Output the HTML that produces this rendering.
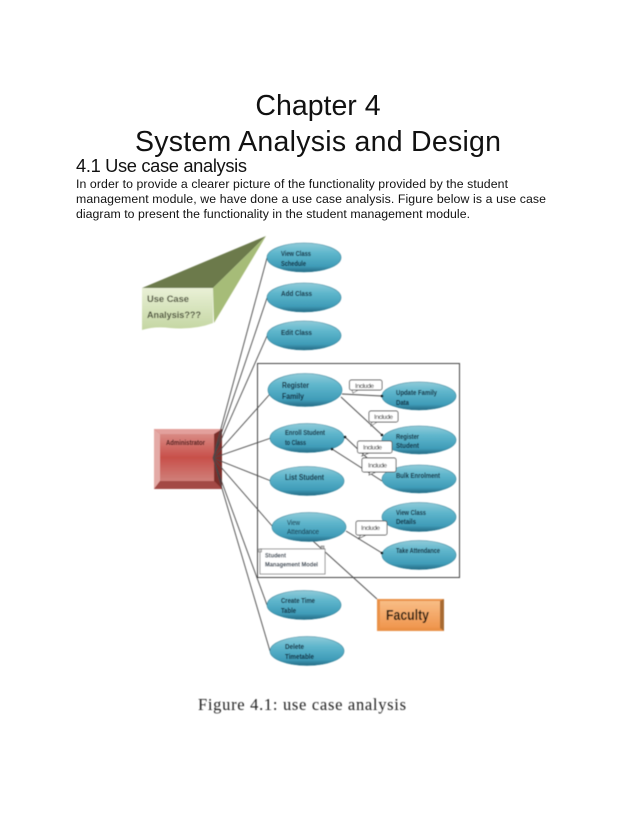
<!DOCTYPE html>
<html><head><meta charset="utf-8"><style>
html,body{margin:0;padding:0;background:#fff}
svg{display:block}
.t{font-family:"Liberation Sans",sans-serif;fill:#111}
.d{font-family:"Liberation Sans",sans-serif;font-weight:bold;fill:#071c30;font-size:7px}
.i{font-family:"Liberation Sans",sans-serif;fill:#111;font-size:6.5px}
.l{stroke:#4a4a4a;stroke-width:.9;fill:none}
.c{fill:#fff;stroke:#555;stroke-width:.9}
</style></head><body>
<svg width="638" height="826" viewBox="0 0 638 826" xmlns="http://www.w3.org/2000/svg">
<defs>
<linearGradient id="e" x1="0" y1="0" x2="0" y2="1"><stop offset="0" stop-color="#8fcbd9"/><stop offset=".35" stop-color="#5fb6cc"/><stop offset=".8" stop-color="#3f9cb8"/><stop offset="1" stop-color="#256a84"/></linearGradient>
<linearGradient id="a" x1="0" y1="0" x2="0" y2="1"><stop offset="0" stop-color="#d98a84"/><stop offset=".5" stop-color="#c8504a"/><stop offset="1" stop-color="#d0807a"/></linearGradient>
<linearGradient id="f" x1="0" y1="0" x2="0" y2="1"><stop offset="0" stop-color="#f8bd86"/><stop offset="1" stop-color="#f0964e"/></linearGradient>
<linearGradient id="g" x1="0" y1="0" x2="0" y2="1"><stop offset="0" stop-color="#e9f0d6"/><stop offset="1" stop-color="#c4d6a2"/></linearGradient>
<filter id="b" x="-5%" y="-5%" width="110%" height="110%"><feGaussianBlur stdDeviation=".4"/></filter>
</defs>
<text class="t" x="318" y="115" font-size="28.500" text-anchor="middle">Chapter 4</text>
<text class="t" x="135" y="151" font-size="28.500" textLength="366" lengthAdjust="spacing">System Analysis and Design</text>
<text class="t" x="76" y="172" font-size="18.300" textLength="171">4.1 Use case analysis</text>
<text class="t" x="76" y="188" font-size="12.300" textLength="432">In order to provide a clearer picture of the functionality provided by the student</text>
<text class="t" x="76" y="203" font-size="12.300" textLength="470">management module, we have done a use case analysis. Figure below is a use case</text>
<text class="t" x="76" y="218" font-size="12.300" textLength="394">diagram to present the functionality in the student management module.</text>

<g filter="url(#b)">
<path d="M142 288L266 236L213 288Z" fill="#6c7a4c"/>
<path d="M213 288L266 236L214 323Z" fill="#a6bc78"/>
<path d="M142 288H213V323Q195 330 170 328Q155 326 142 330Z" fill="url(#g)"/>
<text x="147" y="302" font-family="Liberation Sans,sans-serif" font-weight="bold" font-size="9.500" fill="#474c36" textLength="42" lengthAdjust="spacingAndGlyphs">Use Case</text>
<text x="147" y="318" font-family="Liberation Sans,sans-serif" font-weight="bold" font-size="9.500" fill="#474c36" textLength="54" lengthAdjust="spacingAndGlyphs">Analysis???</text>

<rect x="257.500" y="363.500" width="202" height="214" fill="none" stroke="#444" stroke-width="1"/>

<rect x="154" y="429" width="68" height="60" fill="#b8504c"/>
<path d="M154 429H222L214 434H160Z" fill="#e3a09c"/>
<path d="M154 429L160 434V481L154 489Z" fill="#e4aaa6"/>
<path d="M222 429L214 434V481L222 489Z" fill="#7c2d2b"/>
<path d="M154 489L160 481H214L222 489Z" fill="#a34845"/>
<rect x="160" y="434" width="54" height="47" fill="url(#a)"/>
<text class="d" x="166" y="445" style="fill:#3e0f0f" textLength="39" lengthAdjust="spacingAndGlyphs">Administrator</text>
<path d="M213 458L222 430L218 446ZM213 458L222 486L218 470Z" fill="#2a1414"/>

<g class="l">
<path d="M213 458L267 258M213 458L267 298M213 458L267 336M213 458L270 394M213 458L271 438M213 458L271 481M213 458L273 527M213 458L267 605M213 458L270 651"/>
<path d="M342 394L382 396M341 397L382 435M345 437L382 472M332 449L382 481M346 531L382 553M313 541L377 599"/>
</g>

<rect x="377" y="599" width="67" height="32" fill="#ea9147"/>
<rect x="380" y="601" width="60" height="27" fill="url(#f)"/>
<path d="M440 601L444 599V631L440 628Z" fill="#a86a32"/>
<text x="386" y="620" font-family="Liberation Sans,sans-serif" font-weight="bold" font-size="14.500" fill="#1d1208" textLength="43" lengthAdjust="spacingAndGlyphs">Faculty</text>

<g fill="url(#e)" stroke="#2f7d95" stroke-width=".6">
<ellipse cx="304" cy="257.500" rx="37" ry="14.500"/>
<ellipse cx="304" cy="297.500" rx="37" ry="14.500"/>
<ellipse cx="304" cy="335.500" rx="37" ry="14.500"/>
<ellipse cx="305" cy="390" rx="37" ry="16.500"/>
<ellipse cx="419" cy="396" rx="37" ry="14"/>
<ellipse cx="419" cy="440" rx="37" ry="14"/>
<ellipse cx="419" cy="479" rx="37" ry="14"/>
<ellipse cx="307" cy="438" rx="37" ry="14.500"/>
<ellipse cx="307" cy="481" rx="37" ry="14.500"/>
<ellipse cx="309" cy="527" rx="37" ry="14.500"/>
<ellipse cx="419" cy="517" rx="37" ry="14.500"/>
<ellipse cx="419" cy="555" rx="37" ry="14.500"/>
<ellipse cx="304" cy="605" rx="37" ry="14.500"/>
<ellipse cx="307" cy="651" rx="37" ry="14.500"/>
</g>

<g fill="#111">
<circle cx="382" cy="396" r="1.300"/><circle cx="382" cy="435" r="1.300"/><circle cx="345" cy="437" r="1.300"/><circle cx="332" cy="449" r="1.300"/><circle cx="382" cy="553" r="1.300"/>
</g>

<text class="d" x="281" y="256" textLength="30" lengthAdjust="spacingAndGlyphs">View Class</text><text class="d" x="281" y="266" textLength="25" lengthAdjust="spacingAndGlyphs">Schedule</text>
<text class="d" x="281" y="296" textLength="31" lengthAdjust="spacingAndGlyphs">Add Class</text>
<text class="d" x="281" y="335" textLength="31" lengthAdjust="spacingAndGlyphs">Edit Class</text>
<text class="d" x="282" y="388" style="font-size:8.500px" textLength="27" lengthAdjust="spacingAndGlyphs">Register</text><text class="d" x="282" y="399" style="font-size:8.500px" textLength="22" lengthAdjust="spacingAndGlyphs">Family</text>
<text class="d" x="396" y="395" textLength="41" lengthAdjust="spacingAndGlyphs">Update Family</text><text class="d" x="396" y="405" textLength="13" lengthAdjust="spacingAndGlyphs">Data</text>
<text class="d" x="396" y="439" textLength="23" lengthAdjust="spacingAndGlyphs">Register</text><text class="d" x="396" y="448" textLength="23" lengthAdjust="spacingAndGlyphs">Student</text>
<text class="d" x="396" y="478" textLength="44" lengthAdjust="spacingAndGlyphs">Bulk Enrolment</text>
<text class="d" x="285" y="435" textLength="40" lengthAdjust="spacingAndGlyphs">Enroll Student</text><text class="d" x="285" y="445" textLength="21" lengthAdjust="spacingAndGlyphs">to Class</text>
<text class="d" x="285" y="480" style="font-size:8px" textLength="39" lengthAdjust="spacingAndGlyphs">List Student</text>
<text class="d" x="287" y="525" style="font-weight:normal" textLength="13" lengthAdjust="spacingAndGlyphs">View</text><text class="d" x="287" y="534" style="font-weight:normal" textLength="32" lengthAdjust="spacingAndGlyphs">Attendance</text>
<text class="d" x="396" y="515" textLength="30" lengthAdjust="spacingAndGlyphs">View Class</text><text class="d" x="396" y="524" textLength="20" lengthAdjust="spacingAndGlyphs">Details</text>
<text class="d" x="396" y="553" textLength="44" lengthAdjust="spacingAndGlyphs">Take Attendance</text>
<text class="d" x="281" y="603" textLength="34" lengthAdjust="spacingAndGlyphs">Create Time</text><text class="d" x="281" y="613" textLength="15" lengthAdjust="spacingAndGlyphs">Table</text>
<text class="d" x="285" y="649" textLength="19" lengthAdjust="spacingAndGlyphs">Delete</text><text class="d" x="285" y="659" textLength="29" lengthAdjust="spacingAndGlyphs">Timetable</text>

<path d="M352 390L353 393L358 390Z" fill="#fff" stroke="#555" stroke-width=".7"/>
<rect class="c" x="349.500" y="380" width="32.500" height="10" rx="2"/>
<text class="i" x="355" y="388" textLength="19">Include</text>
<path d="M372 422L371 426L377 422Z" fill="#fff" stroke="#555" stroke-width=".7"/>
<rect class="c" x="369" y="411" width="29" height="11" rx="2"/>
<text class="i" x="374" y="419" textLength="19">Include</text>
<path d="M364 453L362 456L369 453Z" fill="#fff" stroke="#555" stroke-width=".7"/>
<rect class="c" x="357.500" y="441" width="34.500" height="12" rx="2"/>
<text class="i" x="363" y="449.500" textLength="19">Include</text>
<path d="M370 472L369 475L376 472Z" fill="#fff" stroke="#555" stroke-width=".7"/>
<rect class="c" x="362" y="458" width="34" height="14" rx="2"/>
<text class="i" x="368" y="467.500" textLength="19">Include</text>
<path d="M361 535L358 539L366 535Z" fill="#fff" stroke="#555" stroke-width=".7"/>
<rect class="c" x="356" y="521" width="31" height="14" rx="2"/>
<text class="i" x="361" y="530" textLength="19">Include</text>

<rect x="260" y="549" width="65" height="25" fill="#fff" stroke="#777" stroke-width=".8"/>
<rect x="258.500" y="549" width="3" height="3" fill="#ccc" stroke="#666" stroke-width=".5"/>
<rect x="321" y="546" width="3" height="3" fill="#bbb" stroke="#555" stroke-width=".5"/>
<text class="d" x="265" y="557.500" style="font-size:6.500px" textLength="21" lengthAdjust="spacingAndGlyphs">Student</text>
<text class="d" x="265" y="566.500" style="font-size:6.500px" textLength="53" lengthAdjust="spacingAndGlyphs">Management Model</text>

<text x="198" y="710" font-family="Liberation Serif,serif" font-size="16.500" fill="#222" textLength="208">Figure 4.1: use case analysis</text>
</g>
</svg>
</body></html>
